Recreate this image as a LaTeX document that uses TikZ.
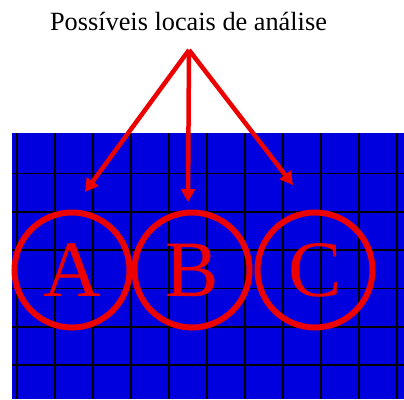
\documentclass[tikz,border=0pt]{standalone}
\usepackage{fontspec}
\setmainfont{Liberation Serif}
\usetikzlibrary{arrows.meta,positioning}
\definecolor{meshblue}{RGB}{0,0,222}
\definecolor{spotred}{RGB}{236,0,0}

\begin{document}
\begin{tikzpicture}[x=1pt, y=-1pt,
  spot/.style={draw=spotred, line width=6pt, circle, minimum size=115pt, inner sep=0pt, text=spotred, font=\fontsize{80}{80}\selectfont},
  ptr/.style={-{Triangle[length=13pt, width=14pt]}, draw=spotred, line width=4.5pt},
  meshline/.style={black, line width=1.6pt},
  lab/.style={font=\fontsize{26.3}{30}\selectfont}]
\useasboundingbox (0,0) rectangle (404,399);
% Mesh
\fill[meshblue] (12,133) rectangle (404,399);
\begin{scope}
\clip (12,133) rectangle (404,399);
\foreach \i in {0,...,10} \draw[meshline] (17+38*\i,133) -- (17+38*\i,399);
\foreach \j in {0,...,5} \draw[meshline] (12,173.5+38.3*\j) -- (404,173.5+38.3*\j);
\end{scope}
% Analysis spots
\node[spot] (A) at (72,270) {A};
\node[spot, right=-1pt of A] (B) {B};
\node[spot, right=2pt of B] (C) {C};
% Label and pointers
\node[lab] (title) at (188.5,21.5) {Possíveis locais de análise};
\coordinate (src) at (189,50);
\coordinate (tipA) at (85,192);
\coordinate (tipB) at (188,202);
\coordinate (tipC) at (293,185);
\draw[ptr] (src) -- (tipA);
\draw[ptr] (src) -- (tipB);
\draw[ptr] (src) -- (tipC);
\end{tikzpicture}
\end{document}
